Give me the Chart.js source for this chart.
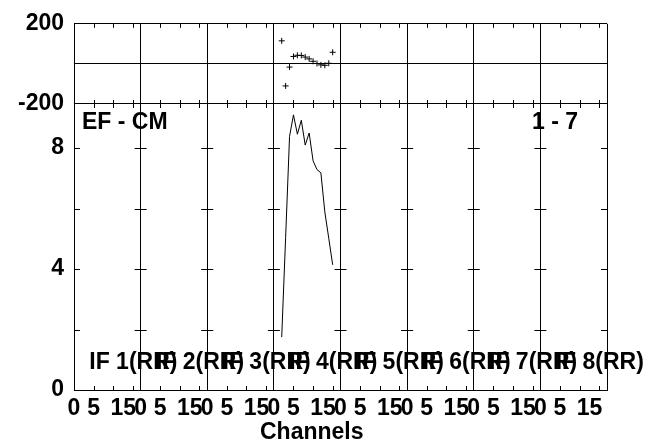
<!DOCTYPE html>
<html><head><meta charset="utf-8">
<script src="https://cdn.jsdelivr.net/npm/chart.js@4.4.1/dist/chart.umd.min.js"></script>
<style>html,body{margin:0;padding:0;background:#fff}#wrap{width:647px;height:445px}</style>
</head><body><div id="wrap"><canvas id="c" width="647" height="445"></canvas></div>
<script>
// ---- data ----
const IF_WIDTH = 17;            // channel span of one IF panel on the axis
const ifLabels = ['IF 1(RR)','IF 2(RR)','IF 3(RR)','IF 4(RR)','IF 5(RR)','IF 6(RR)','IF 7(RR)','IF 8(RR)'];
const dataIF = 4;               // IF that holds the data
const channels  = [2, 3, 4, 5, 6, 7, 8, 9, 10, 11, 12, 13, 14, 15];
const phase     = [115, -110, -16, 37, 43, 42, 34, 25, 13, 2, -5, -7, 3, 58];
const amplitude = [1.75, 5.05, 8.39, 9.10, 8.46, 8.92, 8.10, 8.50, 7.58, 7.29, 7.18, 5.89, 5.02, 4.14];
const channelTicks = [0, 5, 10, 15];
const channelTickLabels = ['0', '5', '', '15'];
const phaseTicks = [-200, 0, 200];
const phaseTickLabels = ['-200', '', '200'];
const ampTicks = [0, 2, 4, 6, 8];
const ampTickLabels = ['0', '', '4', '', '8'];
const leftNote = 'EF - CM';
const rightNote = '1 - 7';
const xTitle = 'Channels';

// ---- chart ----
const FONT = "'Liberation Sans', Arial, Helvetica, sans-serif";
const FS = 23;
Chart.defaults.font.family = FONT;
Chart.defaults.font.size = FS;
Chart.defaults.font.weight = 'bold';
Chart.defaults.color = '#000';

const nIF = ifLabels.length;
const xMax = nIF * IF_WIDTH;
const off = (dataIF - 1) * IF_WIDTH;
const phasePts = channels.map((c, i) => ({x: off + c, y: phase[i]}));
const ampPts = channels.map((c, i) => ({x: off + c, y: amplitude[i]}));

const NBSP = '\u00a0';
function chanLabel(v) {
  if (v >= xMax) return '';
  const c = Math.round(v - Math.floor((v + 1e-6) / IF_WIDTH) * IF_WIDTH);
  const i = channelTicks.indexOf(c);
  if (i < 0) return '';
  const t = channelTickLabels[i];
  return t.length > 1 ? t + NBSP + NBSP + NBSP : t;
}

const decor = {
  id: 'decor',
  afterDatasetsDraw(chart) {
    const {ctx, chartArea: ca, scales} = chart;
    const x = scales.x, yP = scales.yP, yA = scales.yA;
    const al = p => Math.round(p) + 0.5;
    ctx.save();
    ctx.strokeStyle = '#000';
    ctx.lineWidth = 1;
    const line = (x1, y1, x2, y2) => { ctx.beginPath(); ctx.moveTo(x1, y1); ctx.lineTo(x2, y2); ctx.stroke(); };
    for (let k = 0; k < nIF; k++) {
      for (const c of channelTicks) {
        if (c === 0) continue;
        const px = al(x.getPixelForValue(k * IF_WIDTH + c));
        line(px, yP.top, px, yP.top + 4);
        line(px, yP.bottom - 4, px, yP.bottom + 4);
        line(px, yA.bottom - 4, px, yA.bottom);
      }
    }
    for (let k = 0; k <= nIF; k++) {
      const bx = x.getPixelForValue(k * IF_WIDTH);
      for (const v of ampTicks) {
        if (v === 0) continue;
        const py = al(yA.getPixelForValue(v));
        line(Math.max(bx - 6, ca.left), py, Math.min(bx + 6, ca.right), py);
      }
    }
    ctx.fillStyle = '#000';
    ctx.font = 'bold ' + FS + 'px ' + FONT;
    ctx.textBaseline = 'middle';
    ctx.textAlign = 'left';
    ctx.fillText(leftNote, ca.left + 8, yA.top + 19);
    ctx.textAlign = 'right';
    ctx.fillText(rightNote, ca.right - 29, yA.top + 19);
    ctx.textAlign = 'left';
    for (let k = 0; k < nIF; k++) {
      ctx.fillText(ifLabels[k], x.getPixelForValue(k * IF_WIDTH + 3.9), yA.getPixelForValue(0.9));
    }
    ctx.restore();
  }
};

new Chart(document.getElementById('c'), {
  type: 'scatter',
  data: {
    datasets: [
      {label: 'Phase', data: phasePts, yAxisID: 'yP', showLine: false,
       pointStyle: 'cross', pointRadius: 3, pointBorderWidth: 1,
       borderColor: '#000', backgroundColor: '#000'},
      {label: 'Amplitude', type: 'line', data: ampPts, yAxisID: 'yA', showLine: true,
       pointRadius: 0, borderWidth: 1, borderColor: '#000', fill: false, tension: 0}
    ]
  },
  options: {
    responsive: false,
    animation: false,
    devicePixelRatio: 1,
    layout: {padding: {left: 0, right: 40, top: 20, bottom: 1}},
    plugins: {legend: {display: false}, tooltip: {enabled: false}, title: {display: false}},
    scales: {
      x: {
        type: 'linear', position: 'bottom', min: 0, max: xMax,
        afterBuildTicks: s => {
          const t = [];
          for (let k = 0; k < nIF; k++) for (const c of channelTicks) t.push({value: k * IF_WIDTH + c});
          t.push({value: xMax});
          s.ticks = t;
        },
        ticks: {autoSkip: false, maxRotation: 0, minRotation: 0, padding: 5, color: '#000',
                callback: v => chanLabel(v)},
        grid: {drawTicks: false, lineWidth: 1,
               color: c => (c.tick && Math.abs(c.tick.value / IF_WIDTH - Math.round(c.tick.value / IF_WIDTH)) < 1e-6) ? '#000' : 'rgba(0,0,0,0)'},
        border: {display: true, color: '#000'},
        title: {display: true, text: xTitle + NBSP.repeat(9), color: '#000',
                font: {size: FS, weight: 'bold', lineHeight: 1}, padding: 0},
        afterFit: s => { s.height = 54; }
      },
      yP: {
        type: 'linear', position: 'left', stack: 'panels', stackWeight: 81, weight: 2,
        min: -200, max: 200,
        afterBuildTicks: s => { s.ticks = phaseTicks.map(v => ({value: v})); },
        ticks: {autoSkip: false, padding: 10, color: '#000',
                callback: v => phaseTickLabels[phaseTicks.indexOf(v)] ?? ''},
        grid: {drawTicks: false, color: '#000', lineWidth: 1},
        border: {display: true, color: '#000'},
        afterFit: s => { s.width = 74; }
      },
      yA: {
        type: 'linear', position: 'left', stack: 'panels', stackWeight: 289, weight: 1,
        min: 0, max: 9.46,
        afterBuildTicks: s => { s.ticks = ampTicks.map(v => ({value: v})); },
        ticks: {autoSkip: false, padding: 10, color: '#000',
                callback: v => ampTickLabels[ampTicks.indexOf(v)] ?? ''},
        grid: {drawTicks: false, color: 'rgba(0,0,0,0)'},
        border: {display: true, color: '#000'},
        afterFit: s => { s.width = 74; }
      }
    }
  },
  plugins: [decor]
});
</script>
</body></html>
